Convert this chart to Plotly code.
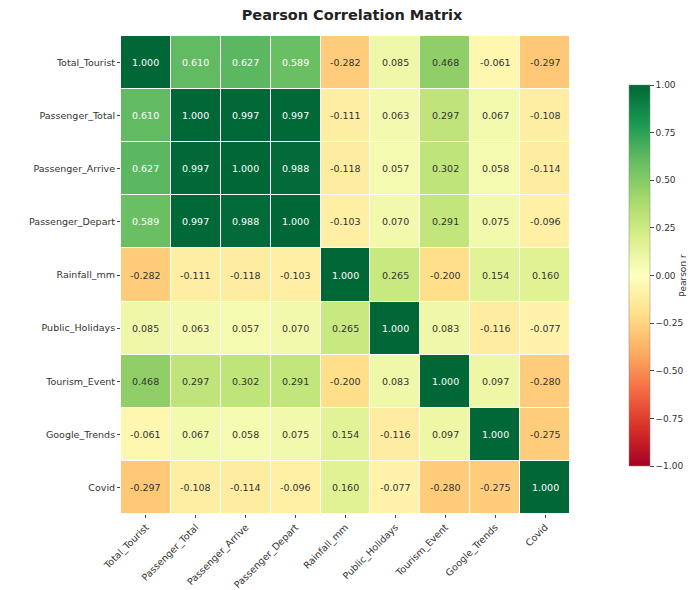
import plotly.graph_objects as go

labels = ["Total_Tourist", "Passenger_Total", "Passenger_Arrive", "Passenger_Depart",
          "Rainfall_mm", "Public_Holidays", "Tourism_Event", "Google_Trends", "Covid"]

row_total_tourist = [1.000, 0.610, 0.627, 0.589, -0.282, 0.085, 0.468, -0.061, -0.297]
row_passenger_total = [0.610, 1.000, 0.997, 0.997, -0.111, 0.063, 0.297, 0.067, -0.108]
row_passenger_arrive = [0.627, 0.997, 1.000, 0.988, -0.118, 0.057, 0.302, 0.058, -0.114]
row_passenger_depart = [0.589, 0.997, 0.988, 1.000, -0.103, 0.070, 0.291, 0.075, -0.096]
row_rainfall = [-0.282, -0.111, -0.118, -0.103, 1.000, 0.265, -0.200, 0.154, 0.160]
row_public_holidays = [0.085, 0.063, 0.057, 0.070, 0.265, 1.000, 0.083, -0.116, -0.077]
row_tourism_event = [0.468, 0.297, 0.302, 0.291, -0.200, 0.083, 1.000, 0.097, -0.280]
row_google_trends = [-0.061, 0.067, 0.058, 0.075, 0.154, -0.116, 0.097, 1.000, -0.275]
row_covid = [-0.297, -0.108, -0.114, -0.096, 0.160, -0.077, -0.280, -0.275, 1.000]

z = [row_total_tourist, row_passenger_total, row_passenger_arrive, row_passenger_depart,
     row_rainfall, row_public_holidays, row_tourism_event, row_google_trends, row_covid]

colorbar_ticks = [1.0, 0.75, 0.5, 0.25, 0.0, -0.25, -0.5, -0.75, -1.0]

fig = go.Figure()
fig.add_trace(go.Heatmap(
    z=z, x=labels, y=labels,
    colorscale="RdYlGn", zmin=-1, zmax=1,
    xgap=1, ygap=1,
    colorbar=dict(
        xref="container", yref="paper",
        x=629 / 700, xanchor="left", thickness=21,
        lenmode="fraction", len=381 / 478, y=1 - (275.5 - 36) / 478, yanchor="middle",
        xpad=0, ypad=0,
        outlinewidth=0.5, outlinecolor="#888",
        tickvals=colorbar_ticks, ticktext=["%.2f" % v if v >= 0 else "\u2212%.2f" % abs(v) for v in colorbar_ticks],
        ticks="outside", ticklen=4, tickfont=dict(size=9, family="DejaVu Sans", color="#333"),
        title=dict(text="Pearson r", side="right", font=dict(size=9, family="DejaVu Sans", color="#333")),
    ),
    hoverinfo="skip",
))

annotations = []
for i, row in enumerate(z):
    for j, v in enumerate(row):
        annotations.append(dict(
            x=labels[j], y=labels[i], text="%.3f" % v, showarrow=False,
            font=dict(size=9.5, family="DejaVu Sans", color="white" if abs(v) > 0.5 else "#333"),
        ))

fig.update_layout(
    width=700, height=590,
    margin=dict(l=121, r=130, t=36, b=76),
    paper_bgcolor="white", plot_bgcolor="white",
    title=dict(text="<b>Pearson Correlation Matrix</b>", x=0.503, xanchor="center", y=0.975, yanchor="middle",
               font=dict(size=14.5, family="DejaVu Sans", color="#222")),
    annotations=annotations,
    xaxis=dict(tickangle=-45, ticks="outside", ticklen=3, tickfont=dict(size=9.5, family="DejaVu Sans", color="#333"),
               showgrid=False, zeroline=False, automargin=False),
    yaxis=dict(autorange="reversed", ticks="outside", ticklen=3, tickfont=dict(size=9.5, family="DejaVu Sans", color="#333"),
               showgrid=False, zeroline=False, automargin=False),
)

fig.write_html("out.html")
